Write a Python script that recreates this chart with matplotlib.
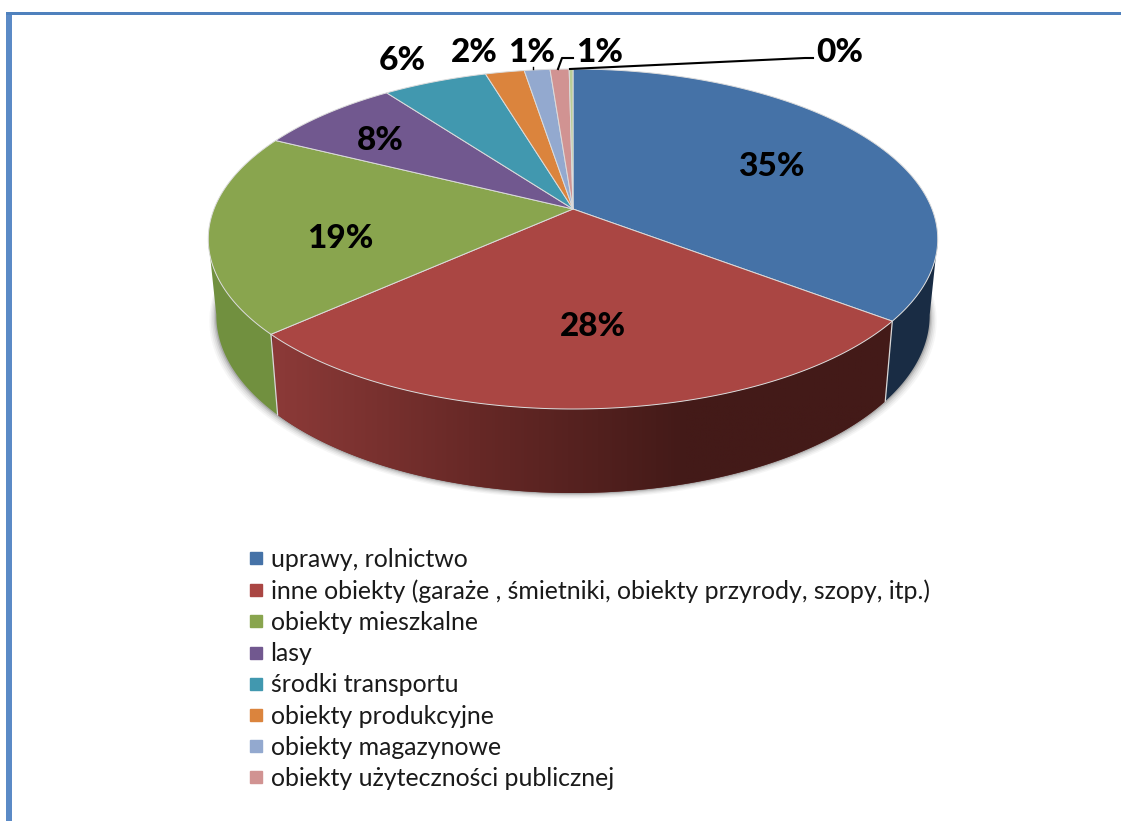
import numpy as np
import matplotlib
matplotlib.use('Agg')
import matplotlib.pyplot as plt
from matplotlib.lines import Line2D
from matplotlib.colors import LinearSegmentedColormap
from matplotlib.patches import Polygon

categories = ['uprawy, rolnictwo',
              'inne obiekty (garaże , śmietniki, obiekty przyrody, szopy, itp.)',
              'obiekty mieszkalne',
              'lasy',
              'środki transportu',
              'obiekty produkcyjne',
              'obiekty magazynowe',
              'obiekty użyteczności publicznej',
              'pozostałe']
values = [35.4, 27.9, 19.1, 7.5, 5.5, 2.05, 1.35, 1.0, 0.2]
colors = ['#4572a7', '#aa4643', '#89a54e', '#71588f', '#4198af', '#db843d', '#93a9cf', '#d19392', '#b9cd96']
wall_colors = ['#192c44', '#6b2a28', '#71903f', '#71588f', '#4198af', '#db843d', '#93a9cf', '#d19392', '#b9cd96']

# label centres, picture pixels
label_xy = [(771, 166), (593, 326), (340, 238), (380, 141), (402, 60), (474, 52), (532, 52), (600, 52), (840, 52)]

W, H = 1121, 821
dpi = 100
apex_x, apex_y = 573, 209
radius = 359
persp = 0.1765
s_y = 164.7
floor_y, floor_sx, floor_sy = 284, 0.978, 1.045

plt.rcParams['font.family'] = ['Lato', 'DejaVu Sans']


def top_rim(a):
    u, v = np.sin(a), np.cos(a)
    w = 1 + persp * v
    return apex_x + radius * u / w, apex_y - s_y * v / w


def bottom_rim(a):
    x, y = top_rim(a)
    return apex_x + floor_sx * (x - apex_x), floor_y + floor_sy * (y - apex_y)


fig = plt.figure(figsize=(W / dpi, H / dpi), dpi=dpi)
ax = fig.add_axes([0, 0, 1, 1])

# page frame
ax.fill([6, 12, 12, 6], [12, 12, H, H], color='#5b8ac6', lw=0)
ax.fill([6, W, W, 6], [12, 12, 15.5, 15.5], color='#4f81bd', lw=0)

cum = np.cumsum([0] + values) / sum(values) * 2 * np.pi

# soft shadow round the floor of the pie
aa = np.linspace(0, 2 * np.pi, 721)
bx, by = bottom_rim(aa)
for grow, alpha in [(7, 0.04), (5.5, 0.06), (4, 0.08), (2.5, 0.12), (1.2, 0.18)]:
    ax.fill(apex_x + (bx - apex_x) * (1 + grow / 358), by + grow * 0.8, color='#303030', alpha=alpha, lw=0, zorder=1)

# the wall only shows between the two widest points of the rim
rim_x = top_rim(aa)[0]
a_right, a_left = aa[np.argmax(rim_x)], aa[np.argmin(rim_x)]

# side wall
for i in range(len(values)):
    start, stop = max(cum[i], a_right), min(cum[i + 1], a_left)
    if start >= stop:
        continue
    a = np.linspace(start, stop, max(3, int((stop - start) * 120)))
    tx, ty = top_rim(a)
    fx, fy = bottom_rim(a)
    poly = Polygon(np.c_[np.r_[tx, fx[::-1]], np.r_[ty, fy[::-1]]], closed=True, facecolor=wall_colors[i], lw=0, zorder=2)
    ax.add_patch(poly)
    if i == 1:
        # red wall runs light to dark, left to right
        shade = LinearSegmentedColormap.from_list('wall', ['#8c3a38', '#662826', '#431a18', '#431a18'])
        im = ax.imshow(np.linspace(0, 1, 256).reshape(1, -1), cmap=shade, extent=(273, 893, 493, 320),
                       aspect='auto', zorder=2.1)
        im.set_clip_path(poly)
    if np.cos(cum[i]) < 0:
        x0, y0 = top_rim(cum[i])
        x1, y1 = bottom_rim(cum[i])
        ax.plot([x0, x1], [y0, y1], color='#d8d8d8', lw=0.9, zorder=3)

# top face
for i in range(len(values)):
    a = np.linspace(cum[i], cum[i + 1], max(3, int((cum[i + 1] - cum[i]) * 120)))
    x, y = top_rim(a)
    ax.fill(np.r_[apex_x, x], np.r_[apex_y, y], facecolor=colors[i], edgecolor='#dcdcdc',
            lw=0.7, zorder=4, joinstyle='round')

# leader lines
ax.plot([558, 562, 573], [69, 58, 58], color='black', lw=1.5, zorder=5)
ax.plot([533, 533], [69, 67], color='black', lw=1.0, zorder=5)
ax.plot([570, 805, 813], [69, 58, 58], color='black', lw=1.5, zorder=5)

for v, (lx, ly) in zip(values, label_xy):
    ax.text(lx, ly, f'{v:.0f}%', ha='center', va='center', fontsize=24, fontweight='black', color='black', zorder=6)

handles = [Line2D([], [], ls='', marker='s', ms=8.4, mfc=c, mec=c) for c in colors[:8]]
ax.legend(handles, categories[:8], loc='upper left', bbox_to_anchor=(245 / W, 1 - 548 / H),
          bbox_transform=fig.transFigure, frameon=False, fontsize=17.9, labelspacing=0.33,
          handlelength=0.9, handletextpad=0.13, borderpad=0, borderaxespad=0, labelcolor='#1a1a1a')

ax.set_xlim(0, W)
ax.set_ylim(H, 0)
ax.axis('off')

fig.savefig('out.png', dpi=dpi, facecolor='white')
